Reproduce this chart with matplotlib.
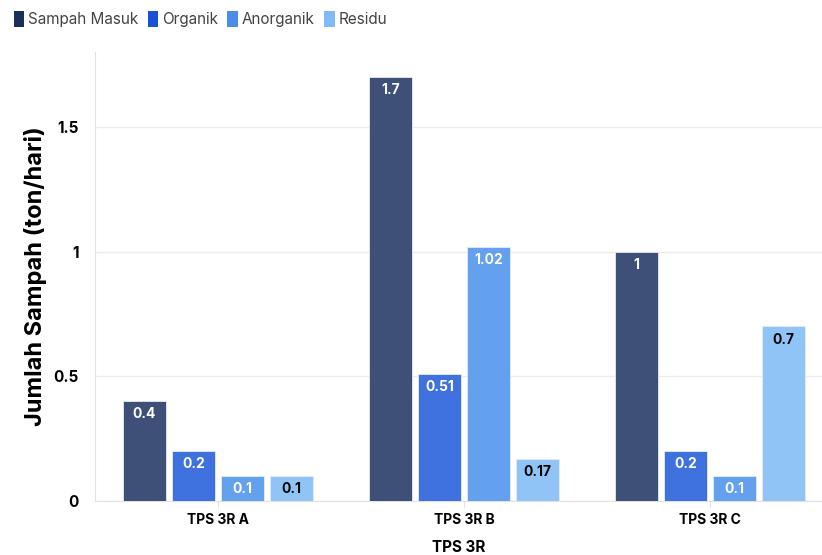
import numpy as np
import matplotlib.pyplot as plt
from matplotlib.patches import Patch

plt.rcParams['font.family'] = ['Inter', 'DejaVu Sans']

categories = ['TPS 3R A', 'TPS 3R B', 'TPS 3R C']
series_names = ['Sampah Masuk', 'Organik', 'Anorganik', 'Residu']
sampah_masuk = [0.4, 1.7, 1.0]
organik = [0.2, 0.51, 0.2]
anorganik = [0.1, 1.02, 0.1]
residu = [0.1, 0.17, 0.7]
y_ticks = [0, 0.5, 1, 1.5]
y_tick_labels = ['0', '0.5', '1', '1.5']

legend_colors = ['#1b2f5e', '#1a50d8', '#4a8ee8', '#80bbf6']
bar_colors = ['#3e5077', '#3f72df', '#63a1ee', '#90c4f7']
label_colors = ['white', 'white', 'white', 'black']

fig = plt.figure(figsize=(8.22, 5.55), dpi=100)
ax = fig.add_axes([95 / 822, 54 / 555, 727 / 822, 449 / 555])

x = np.arange(len(categories))
width = 0.175
pitch = 0.2
data = [sampah_masuk, organik, anorganik, residu]
for i, vals in enumerate(data):
    pos = x + (i - 1.5) * pitch
    bars = ax.bar(pos, vals, width, color=bar_colors[i], edgecolor='#e6ecf5',
                  linewidth=0.6, zorder=3)
    for b, v in zip(bars, vals):
        ax.text(b.get_x() + b.get_width() / 2, v - 0.025, f'{v:g}',
                ha='center', va='top', fontsize=10, fontweight='bold',
                color=label_colors[i], zorder=4)

ax.set_xlim(-0.5, 727 / 246 - 0.5)
ax.set_ylim(0, 1.8)
ax.set_xticks(x)
ax.set_xticklabels(categories, fontsize=10, fontweight='bold')
ax.set_yticks(y_ticks)
ax.set_yticklabels(y_tick_labels, fontsize=11, fontweight='bold')
ax.tick_params(axis='x', length=5, color='#e2e2e2', pad=4)
ax.tick_params(axis='y', length=0, pad=12)
ax.grid(axis='y', color='#ececec', linewidth=1, zorder=0)
for side in ['top', 'right']:
    ax.spines[side].set_visible(False)
for side in ['left', 'bottom']:
    ax.spines[side].set_color('#e2e2e2')

ax.set_ylabel('Jumlah Sampah (ton/hari)', fontsize=17, fontweight='bold', labelpad=4)
ax.set_xlabel('TPS 3R', fontsize=11, fontweight='bold', labelpad=9)

handles = [Patch(facecolor=c, edgecolor='none') for c in legend_colors]
fig.legend(handles, series_names, loc='upper left', bbox_to_anchor=(0.0, 1.005),
           ncol=4, frameon=False, fontsize=11, handlelength=0.7, handleheight=1.2,
           handletextpad=0.25, columnspacing=0.6, labelcolor='#444444')

fig.savefig('out.png', dpi=100)
